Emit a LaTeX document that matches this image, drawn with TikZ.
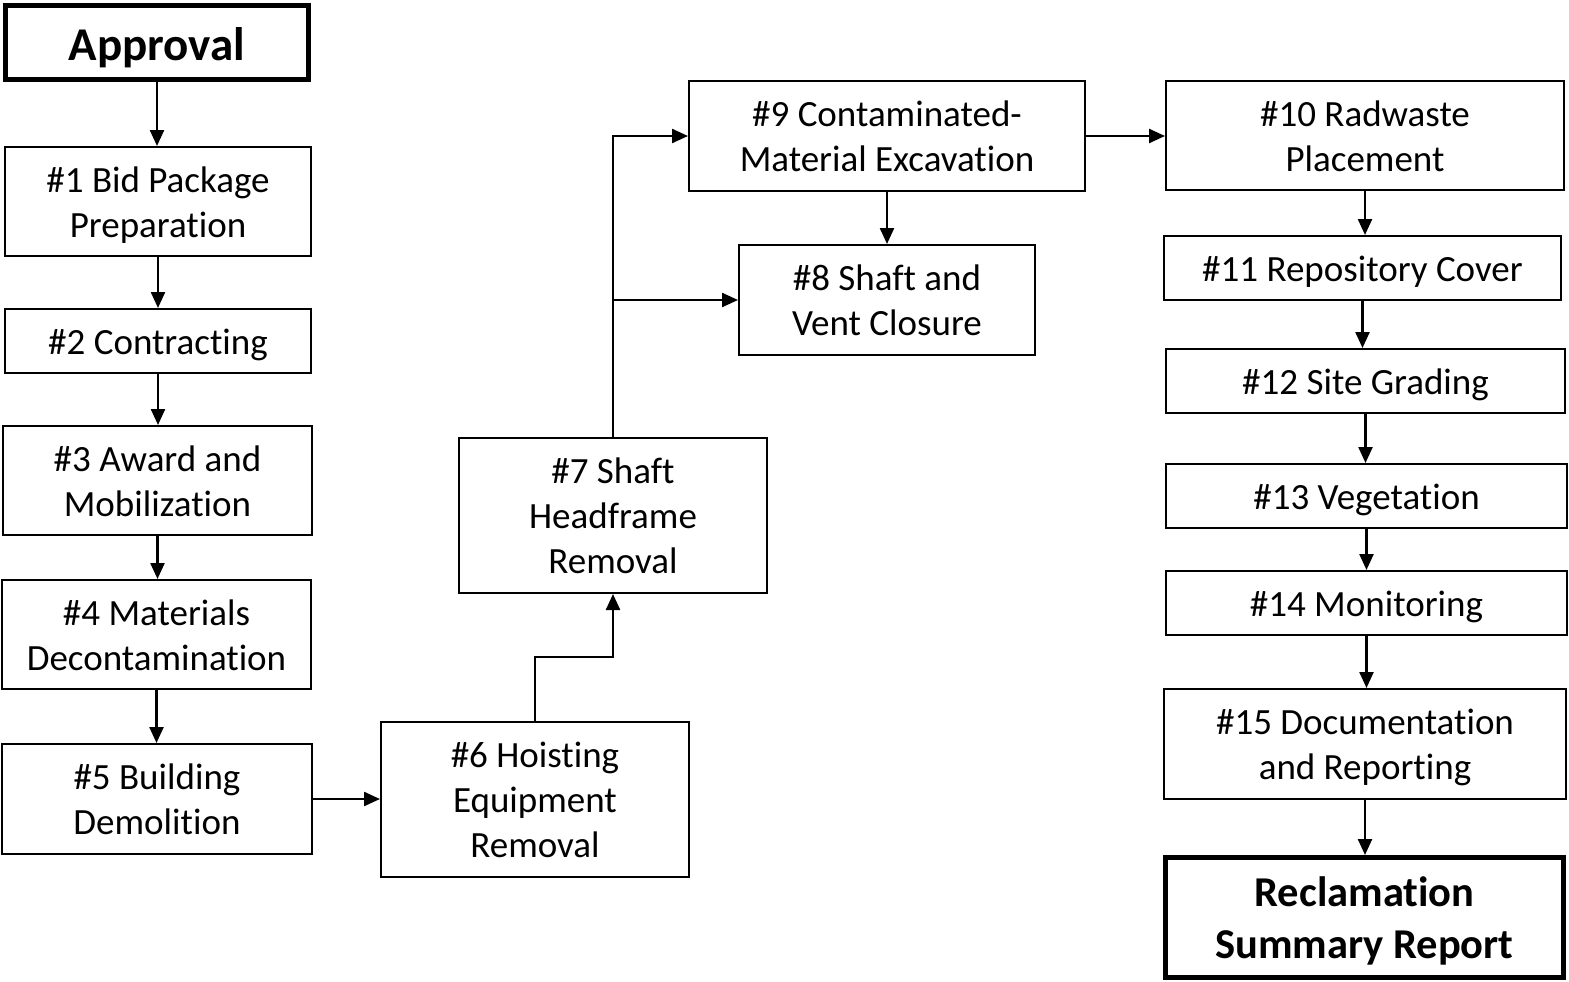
\documentclass[tikz,border=0pt]{standalone}
\usepackage{fontspec}
\setmainfont{Carlito}[Ligatures=NoCommon]
\usetikzlibrary{arrows.meta}
\newcommand\ml[1]{\begin{tabular}{@{}c@{}}#1\end{tabular}}
\begin{document}
\begin{tikzpicture}[x=1pt,y=-1pt,
  box/.style={draw=black,line width=2pt,rectangle,inner sep=0pt,
    font=\fontsize{37}{45}\selectfont\setbox\strutbox\hbox{\vrule height 35.5pt depth 9.5pt width 0pt}},
  endbox/.style={draw=black,line width=5pt,rectangle,inner sep=0pt,
    font=\fontsize{42.5}{52}\selectfont\bfseries\setbox\strutbox\hbox{\vrule height 40.5pt depth 11.5pt width 0pt}},
  topbox/.style={draw=black,line width=5pt,rectangle,inner sep=0pt,
    font=\fontsize{47}{60}\selectfont\bfseries\setbox\strutbox\hbox{\vrule height 48pt depth 12pt width 0pt}},
  arr/.style={line width=2.4pt,-{Triangle[length=16pt,width=14pt]}}]
\useasboundingbox (0,0) rectangle (1569,982);
\node[topbox,minimum width=303pt,minimum height=74pt] (ap) at (157,42.5) {\ml{Approval}};
\node[box,minimum width=306pt,minimum height=109pt] (n1) at (158,201.5) {\ml{\#1 Bid Package\\Preparation}};
\node[box,minimum width=306pt,minimum height=64pt] (n2) at (158,341) {\ml{\#2 Contracting}};
\node[box,minimum width=309pt,minimum height=109pt] (n3) at (157.5,480.5) {\ml{\#3 Award and\\Mobilization}};
\node[box,minimum width=309pt,minimum height=109pt] (n4) at (156.5,634.5) {\ml{\#4 Materials\\Decontamination}};
\node[box,minimum width=310pt,minimum height=110pt] (n5) at (157,799) {\ml{\#5 Building\\Demolition}};
\node[box,minimum width=308pt,minimum height=155pt] (n6) at (535,799.5) {\ml{\#6 Hoisting\\Equipment\\Removal}};
\node[box,minimum width=308pt,minimum height=155pt] (n7) at (613,515.5) {\ml{\#7 Shaft\\Headframe\\Removal}};
\node[box,minimum width=296pt,minimum height=110pt] (n8) at (887,300) {\ml{\#8 Shaft and\\Vent Closure}};
\node[box,minimum width=396pt,minimum height=110pt] (n9) at (887,136) {\ml{\#9 Contaminated-\\Material Excavation}};
\node[box,minimum width=398pt,minimum height=109pt] (n10) at (1365,135.5) {\ml{\#10 Radwaste\\Placement}};
\node[box,minimum width=397pt,minimum height=64pt] (n11) at (1362.5,268) {\ml{\#11 Repository Cover}};
\node[box,minimum width=399pt,minimum height=64pt] (n12) at (1365.5,381) {\ml{\#12 Site Grading}};
\node[box,minimum width=401pt,minimum height=64pt] (n13) at (1366.5,496) {\ml{\#13 Vegetation}};
\node[box,minimum width=401pt,minimum height=64pt] (n14) at (1366.5,603) {\ml{\#14 Monitoring}};
\node[box,minimum width=402pt,minimum height=110pt] (n15) at (1365,744) {\ml{\#15 Documentation\\and Reporting}};
\node[endbox,minimum width=398pt,minimum height=120pt] (rs) at (1364.5,917.5) {\ml{Reclamation\\Summary Report}};
\draw[arr] (ap.south) -- (ap.south |- n1.north);
\draw[arr] (n1.south) -- (n1.south |- n2.north);
\draw[arr] (n2.south) -- (n2.south |- n3.north);
\draw[arr] (n3.south) -- (n3.south |- n4.north);
\draw[arr] (n4.south) -- (n4.south |- n5.north);
\draw[arr] (n5.east) -- (n5.east -| n6.west);
\draw[arr] (n6.north) -- ++(0,-64) -| (n7.south);
\draw[arr] (n7.north) |- (n9.west);
\draw[arr] (n7.north |- n8.west) -- (n8.west);
\draw[arr] (n9.south) -- (n9.south |- n8.north);
\draw[arr] (n9.east) -- (n9.east -| n10.west);
\draw[arr] (n10.south) -- (n10.south |- n11.north);
\draw[arr] (n11.south) -- (n11.south |- n12.north);
\draw[arr] (n12.south) -- (n12.south |- n13.north);
\draw[arr] (n13.south) -- (n13.south |- n14.north);
\draw[arr] (n14.south) -- (n14.south |- n15.north);
\draw[arr] (n15.south) -- (n15.south |- rs.north);
\end{tikzpicture}
\end{document}
